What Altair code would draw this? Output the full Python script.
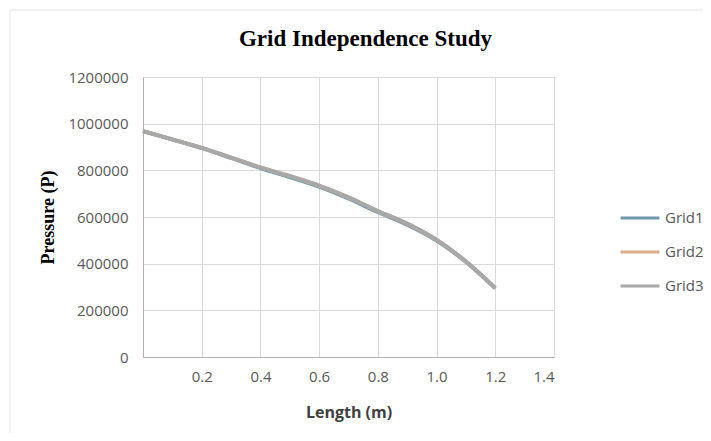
import altair as alt
import pandas as pd

length_m = [0.0, 0.1, 0.2, 0.3, 0.4, 0.5, 0.6, 0.7, 0.8, 0.9, 1.0, 1.1, 1.2]
grid1 = [968000, 932000, 895000, 853000, 809000, 771000, 730000, 679000, 621000, 567000, 499000, 407000, 294000]
grid2 = [968000, 933000, 897000, 855000, 813000, 776000, 734000, 684000, 625000, 571000, 502000, 409000, 295000]
grid3 = [968000, 933000, 897000, 855000, 812000, 775000, 735000, 685000, 626000, 572000, 503000, 410000, 296000]
series_names = ["Grid1", "Grid2", "Grid3"]
series_colors = ["#6F97AD", "#D8AD88", "#A8A8A8"]
x_ticks = [0.2, 0.4, 0.6, 0.8, 1.0, 1.2, 1.4]
y_ticks = [0, 200000, 400000, 600000, 800000, 1000000, 1200000]

rows = []
for name, vals in zip(series_names, [grid1, grid2, grid3]):
    for x, y in zip(length_m, vals):
        rows.append({"Length": x, "Pressure": y, "Series": name, "order": series_names.index(name)})
df = pd.DataFrame(rows)

lab = dict(labelFont="Open Sans", labelFontSize=15, labelColor="#595959",
           grid=True, gridColor="#D9D9D9", gridWidth=1,
           domainColor="#B0B0B0", domainWidth=1, ticks=False, tickSize=0)

lines = alt.Chart(df).mark_line(strokeWidth=3.8, interpolate="monotone").encode(
    x=alt.X("Length:Q", scale=alt.Scale(domain=[0, 1.4], nice=False),
            axis=alt.Axis(values=x_ticks, format=".1f", title="Length (m)",
                          titleFont="Open Sans", titleFontSize=16, titleFontWeight="bold",
                          titleColor="#404040", titleY=55, titleBaseline="middle",
                          labelPadding=12, **lab)),
    y=alt.Y("Pressure:Q", scale=alt.Scale(domain=[0, 1200000], nice=False),
            axis=alt.Axis(values=y_ticks, format="d", title="Pressure (P)",
                          titleFont="Liberation Serif", titleFontSize=18, titleFontWeight="bold",
                          titleColor="#000000", titleX=-95, titleY=140, titleBaseline="middle",
                          titleAngle=270, labelPadding=15, **lab)),
    color=alt.Color("Series:N", scale=alt.Scale(domain=series_names, range=series_colors),
                    legend=alt.Legend(title=None, orient="none", legendX=476, legendY=120,
                                      symbolType="stroke", symbolSize=1521, symbolStrokeWidth=3,
                                      labelFont="Open Sans", labelFontSize=15, labelColor="#595959",
                                      labelOffset=4, rowPadding=5)),
    order=alt.Order("order:Q"),
)

frame_top = alt.Chart(alt.Data(values=[{"k": 1}])).mark_rule(color="#E3E3E3", strokeWidth=1).encode(
    x=alt.value(-133), x2=alt.value(570), y=alt.value(-67)
)
frame_left = alt.Chart(alt.Data(values=[{"k": 1}])).mark_rule(color="#E3E3E3", strokeWidth=1).encode(
    x=alt.value(-133), y=alt.value(-67), y2=alt.value(364)
)

chart = alt.layer(frame_top, frame_left, lines).properties(
    width=411,
    height=280,
    autosize=alt.AutoSizeParams(type="none"),
    padding={"left": 135, "top": 69, "right": 149, "bottom": 76},
    title=alt.TitleParams("Grid Independence Study", font="Liberation Serif", fontSize=23,
                          fontWeight="bold", color="#000000", anchor="middle", frame="group",
                          baseline="alphabetic", offset=0, dy=59, dx=17),
).configure_view(stroke=None).configure(background="#FFFFFF")

chart.save("out.html", embed_options={"renderer": "svg", "actions": False})
